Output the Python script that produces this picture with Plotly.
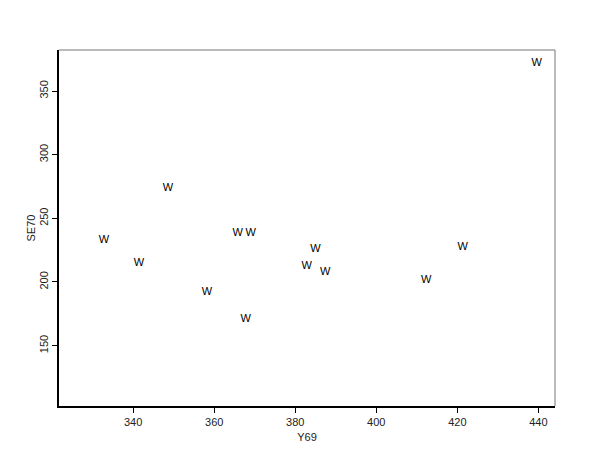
import plotly.graph_objects as go

# Data
y69 = [332.8, 341.4, 348.6, 358.2, 365.8, 369.0, 367.8, 385.0, 382.8, 387.4, 412.3, 421.3, 439.6]
se70 = [233.0, 215.0, 273.5, 192.0, 238.5, 238.5, 170.5, 226.0, 212.0, 208.0, 201.5, 227.5, 372.0]
labels = ["W"] * len(y69)

x_ticks = [340, 360, 380, 400, 420, 440]
y_ticks = [150, 200, 250, 300, 350]

font_family = "Liberation Sans, Arial, sans-serif"

fig = go.Figure()
fig.add_trace(go.Scatter(
    x=y69, y=se70, mode="text", text=labels,
    textposition="middle center",
    textfont=dict(family=font_family, size=11, color="black"),
    showlegend=False, hoverinfo="x+y",
))

fig.update_layout(
    width=600, height=464,
    margin=dict(l=51, r=53, t=42, b=66),
    paper_bgcolor="white", plot_bgcolor="white",
    font=dict(family=font_family, size=11, color="#222"),
    xaxis=dict(
        range=[321.7, 444.1], tickvals=x_ticks, ticks="outside", ticklen=5,
        tickcolor="black", showgrid=False, zeroline=False,
        showline=True, linecolor="black", linewidth=1.5,
        automargin=False,
        title=dict(text="Y69", standoff=6, font=dict(size=11)),
        tickfont=dict(size=11),
    ),
    yaxis=dict(
        range=[102.6, 382.2], tickvals=y_ticks, ticks="outside", ticklen=5,
        tickcolor="black", showgrid=False, zeroline=False,
        showline=True, linecolor="black", linewidth=1.5,
        tickangle=-90, automargin=False,
        title=dict(text="SE70", standoff=0, font=dict(size=11)),
        tickfont=dict(size=11),
    ),
    shapes=[
        dict(type="line", xref="paper", yref="paper", x0=0, x1=1, y0=1, y1=1,
             line=dict(color="#777", width=1)),
        dict(type="line", xref="paper", yref="paper", x0=1, x1=1, y0=0, y1=1,
             line=dict(color="#777", width=1)),
    ],
)

fig.write_html("out.html")
